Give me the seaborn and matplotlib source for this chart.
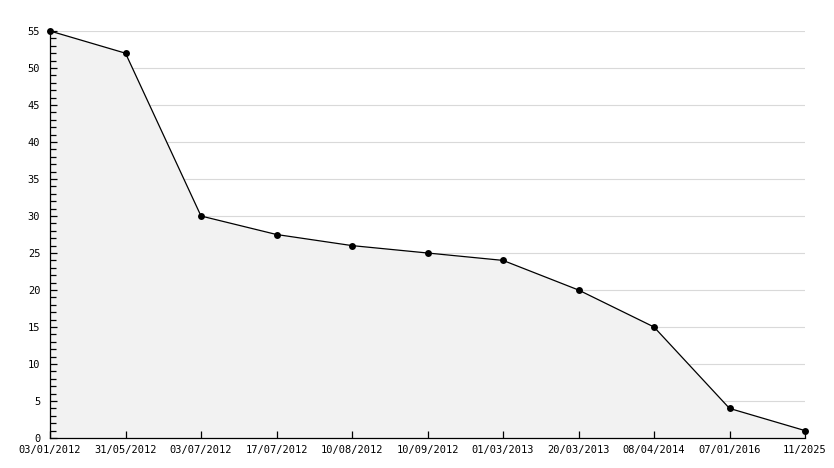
import matplotlib
matplotlib.use("Agg")
import matplotlib.pyplot as plt
import seaborn as sns
import pandas as pd
from matplotlib.ticker import MultipleLocator

dates = ["03/01/2012", "31/05/2012", "03/07/2012", "17/07/2012", "10/08/2012",
         "10/09/2012", "01/03/2013", "20/03/2013", "08/04/2014", "07/01/2016", "11/2025"]
values = [55, 52, 30, 27.5, 26, 25, 24, 20, 15, 4, 1]

df = pd.DataFrame({"idx": range(len(dates)), "value": values})

sns.set_style("white")
plt.rcParams["font.family"] = ["DejaVu Sans Mono"]
plt.rcParams.update({
    "xtick.bottom": True, "ytick.left": True,
    "ytick.minor.left": True, "ytick.minor.visible": True,
    "xtick.direction": "in", "ytick.direction": "in",
    "xtick.major.size": 5, "ytick.major.size": 5, "ytick.minor.size": 4,
    "xtick.major.width": 0.9, "ytick.major.width": 0.9, "ytick.minor.width": 0.9,
    "xtick.color": "black", "ytick.color": "black",
})

fig = plt.figure(figsize=(8.34, 4.68), dpi=100)
ax = fig.add_axes([50/834, 1-438/468, (805-50)/834, (438-31)/468])

ax.fill_between(df["idx"], df["value"], 0, color="#f2f2f2", zorder=1, linewidth=0)
sns.lineplot(data=df, x="idx", y="value", ax=ax, color="black", linewidth=0.9,
             marker="o", markersize=5, markeredgewidth=0, zorder=3, clip_on=False)

ax.set_xlim(0, len(dates) - 1)
ax.set_ylim(0, 55)
ax.yaxis.set_major_locator(MultipleLocator(5))
ax.yaxis.set_minor_locator(MultipleLocator(1))
ax.set_xticks(range(len(dates)))
ax.set_xticklabels(dates)
ax.xaxis.set_minor_locator(plt.NullLocator())
ax.grid(False)
for yv in ax.get_yticks():
    if 0 < yv <= 55:
        ax.axhline(yv, color="#d9d9d9", linewidth=0.8, zorder=0.5)
ax.set_axisbelow(False)
for s in ["top", "right"]:
    ax.spines[s].set_visible(False)
for s in ["left", "bottom"]:
    ax.spines[s].set_color("black")
    ax.spines[s].set_linewidth(0.9)
ax.tick_params(axis="both", which="major", direction="in", length=5, width=0.9,
               labelsize=7.5, colors="black")
ax.tick_params(axis="x", which="major", pad=5)
ax.tick_params(axis="y", which="major", pad=7)
ax.tick_params(axis="y", which="minor", direction="in", length=4, width=0.9, colors="black")
ax.set_xlabel("")
ax.set_ylabel("")
ax.patch.set_alpha(0)

fig.savefig("out.png", dpi=100)
